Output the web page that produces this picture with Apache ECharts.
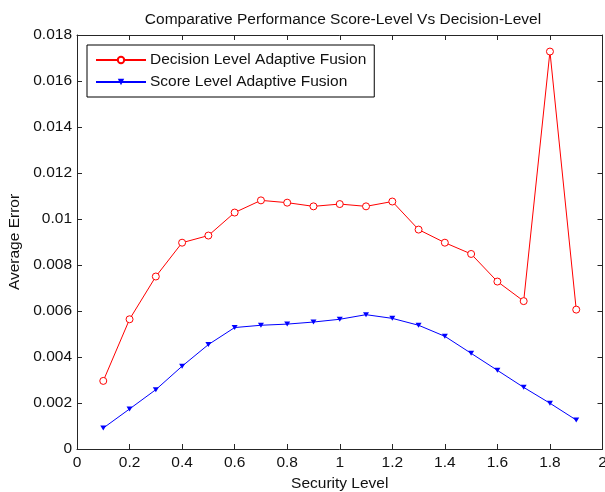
<!DOCTYPE html>
<html>
<head>
<meta charset="utf-8">
<script src="https://cdn.jsdelivr.net/npm/echarts@6/dist/echarts.min.js"></script>
<style>
  html, body { margin: 0; padding: 0; background: #fff; }
  #chart { width: 605px; height: 492px; }
</style>
</head>
<body>
<div id="chart"></div>
<script>
// Security levels on the x axis
const securityLevels = [0.1, 0.2, 0.3, 0.4, 0.5, 0.6, 0.7, 0.8, 0.9, 1.0,
                        1.1, 1.2, 1.3, 1.4, 1.5, 1.6, 1.7, 1.8, 1.9];

// Average error of decision-level fusion
const decisionLevel = [0.00296, 0.00564, 0.00750, 0.00897, 0.00928, 0.01028, 0.01081,
                       0.01071, 0.01055, 0.01065, 0.01055, 0.01076, 0.00954, 0.00897,
                       0.00848, 0.00728, 0.00643, 0.01728, 0.00606];

// Average error of score-level fusion
const scoreLevel = [0.00091, 0.00174, 0.00258, 0.00360, 0.00454, 0.00528, 0.00538,
                    0.00543, 0.00552, 0.00564, 0.00584, 0.00568, 0.00538, 0.00490,
                    0.00416, 0.00342, 0.00268, 0.00199, 0.00126];

const seriesNames = ['Decision Level Adaptive Fusion', 'Score Level Adaptive Fusion'];
const chartTitle = 'Comparative Performance Score-Level Vs Decision-Level';
const xName = 'Security Level';
const yName = 'Average Error';

const FONT = 'Liberation Sans';
const TEXT_COLOR = '#111';
const AXIS_COLOR = '#262626';

const pairs = (xs, ys) => xs.map((x, i) => [x, ys[i]]);

const chart = echarts.init(document.getElementById('chart'), null, { renderer: 'canvas' });

const baseX = {
  type: 'value', min: 0, max: 2, interval: 0.2,
  axisLine: { show: true, onZero: false, lineStyle: { color: AXIS_COLOR, width: 1 } },
  axisTick: { show: true, inside: true, length: 5, lineStyle: { color: AXIS_COLOR } },
  splitLine: { show: false }
};
const baseY = {
  type: 'value', min: 0, max: 0.018, interval: 0.002,
  axisLine: { show: true, onZero: false, lineStyle: { color: AXIS_COLOR, width: 1 } },
  axisTick: { show: true, inside: true, length: 5, lineStyle: { color: AXIS_COLOR } },
  splitLine: { show: false }
};

chart.setOption({
  animation: false,
  backgroundColor: '#ffffff',
  title: {
    text: chartTitle,
    left: 338, top: 7, textAlign: 'center',
    textStyle: { fontFamily: FONT, fontSize: 15.5, fontWeight: 'normal', color: TEXT_COLOR }
  },
  grid: {
    left: 77, right: 2.5, top: 35, bottom: 43,
    containLabel: false, outerBoundsMode: 'none'
  },
  legend: {
    orient: 'vertical',
    left: 87, top: 45,
    padding: [7, 8, 7, 8],
    itemWidth: 50, itemHeight: 8, itemGap: 6,
    backgroundColor: '#ffffff',
    borderColor: '#000', borderWidth: 1, borderRadius: 0,
    textStyle: { fontFamily: FONT, fontSize: 15.5, color: TEXT_COLOR, padding: [0, 0, 0, -1] },
    data: seriesNames
  },
  xAxis: [
    Object.assign({}, baseX, {
      position: 'bottom',
      name: xName, nameLocation: 'middle', nameGap: 27,
      nameTextStyle: { fontFamily: FONT, fontSize: 15.5, color: TEXT_COLOR },
      axisLabel: {
        margin: 6, fontFamily: FONT, fontSize: 15.5, color: TEXT_COLOR,
        formatter: v => String(parseFloat(v.toFixed(1)))
      }
    }),
    Object.assign({}, baseX, { position: 'top', axisLabel: { show: false } })
  ],
  yAxis: [
    Object.assign({}, baseY, {
      position: 'left',
      name: yName, nameLocation: 'middle', nameGap: 50, nameRotate: 90,
      nameTextStyle: { fontFamily: FONT, fontSize: 15.5, color: TEXT_COLOR },
      axisLabel: {
        margin: 5, fontFamily: FONT, fontSize: 15.5, color: TEXT_COLOR,
        formatter: v => String(parseFloat(v.toFixed(3)))
      }
    }),
    Object.assign({}, baseY, { position: 'right', axisLabel: { show: false } })
  ],
  series: [
    {
      name: seriesNames[0], type: 'line',
      xAxisIndex: 0, yAxisIndex: 0,
      data: pairs(securityLevels, decisionLevel),
      color: '#ff0000',
      lineStyle: { color: '#ff0000', width: 1 },
      symbol: 'circle', symbolSize: 7, showAllSymbol: true,
      itemStyle: { color: '#ffffff', borderColor: '#ff0000', borderWidth: 1 }
    },
    {
      name: seriesNames[1], type: 'line',
      xAxisIndex: 0, yAxisIndex: 0,
      data: pairs(securityLevels, scoreLevel),
      color: '#0000ff',
      lineStyle: { color: '#0000ff', width: 1 },
      symbol: 'triangle', symbolRotate: 180, symbolSize: [6, 5], showAllSymbol: true,
      itemStyle: { color: '#0000ff', borderColor: '#0000ff', borderWidth: 0 }
    }
  ]
});
</script>
</body>
</html>
